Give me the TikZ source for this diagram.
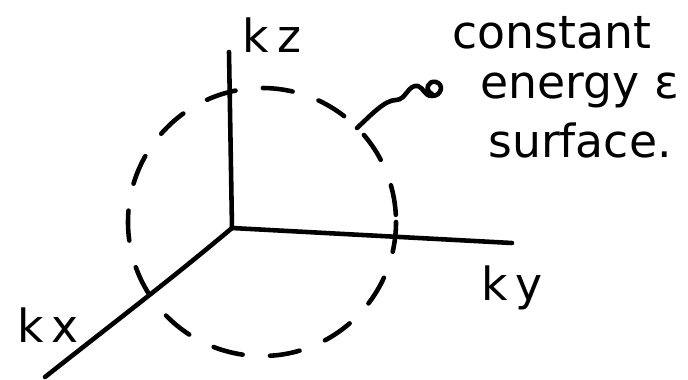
\documentclass[tikz,border=0pt]{standalone}
\usepackage{fontspec}
\setmainfont{DejaVu Sans}
\usetikzlibrary{positioning}
\tikzset{
  axis/.style={line width=2.6pt, line cap=round, line join=round},
  shell/.style={line width=2.6pt, line cap=round, dash pattern=on 0.6cm off 0.55cm},
  lbl/.style={font=\fontsize{26}{28}\selectfont, inner sep=0pt}
}
\begin{document}
\begin{tikzpicture}[x=0.02cm, y=-0.02cm]
\useasboundingbox (0,0) rectangle (688,379);
\coordinate (o) at (232,228);
\coordinate (kzend) at (229,52);
\coordinate (kyend) at (512,243);
\coordinate (kxend) at (45,377);
\draw[axis] (o) -- (kzend);
\draw[axis] (o) -- (kyend);
\draw[axis] (o) .. controls (170,280) and (130,310) .. (kxend);
\draw[shell] (262,222) circle (134);
\node[lbl] (kz) at (272,35) {k\,z};
\node[lbl] (ky) at (512,288) {k\,y};
\node[lbl] (kx) at (48,325) {k\,x};
% note, three staggered lines
\node[lbl, anchor=west] (note1) at (452,33) {constant};
\node[lbl, anchor=west] (note2) at (480,90) {energy ε};
\node[lbl, anchor=west] (note3) at (488,140) {surface.};
\coordinate (hook) at (357,128);
\draw[axis] (hook) .. controls (372,114) and (385,100) .. (396,100)
  .. controls (406,100) and (408,84) .. (418,86)
  .. controls (424,88) and (424,96) .. (432,96)
  .. controls (442,96) and (444,84) .. (436,82)
  .. controls (428,80) and (424,90) .. (432,94);
\end{tikzpicture}
\end{document}
